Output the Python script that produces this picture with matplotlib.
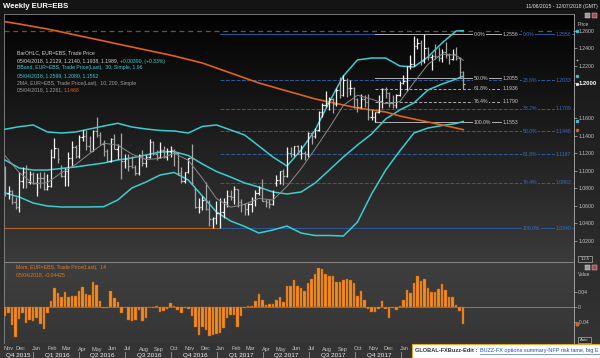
import matplotlib
matplotlib.use('Agg')
import matplotlib.pyplot as plt
import matplotlib.dates as mdates
import matplotlib.transforms as mtransforms
from matplotlib.colors import LinearSegmentedColormap, to_rgb
from matplotlib.patches import Rectangle
from matplotlib.lines import Line2D
import numpy as np
import pandas as pd

plt.rcParams['font.family'] = ['Liberation Sans', 'DejaVu Sans']

# weekly EUR=EBS bars, 06/11/2015 .. 04/05/2018
weeks = pd.date_range('2015-11-06', '2018-05-04', freq='W-FRI')

opens = [1.1015, 1.0740, 1.0770, 1.0645, 1.0590, 1.0885, 1.0990, 1.0865,
         1.0965, 1.0860, 1.0920, 1.0915, 1.0795, 1.0830, 1.1155, 1.1255, 1.1030, 1.0935,
         1.1000, 1.1150, 1.1270, 1.1165, 1.1390, 1.1400, 1.1285, 1.1225, 1.1450, 1.1405,
         1.1310, 1.1225, 1.1115, 1.1365, 1.1250, 1.1280, 1.1115, 1.1135, 1.1050, 1.1040,
         1.0975, 1.1175, 1.1085, 1.1160, 1.1325, 1.1195, 1.1155, 1.1235, 1.1155, 1.1225,
         1.1240, 1.1200, 1.0970, 1.0885, 1.0985, 1.1140, 1.0790, 1.0590, 1.0590, 1.0665,
         1.0560, 1.0450, 1.0455,
         1.0520, 1.0530, 1.0645, 1.0705, 1.0695, 1.0785, 1.0640, 1.0615, 1.0560, 1.0620,
         1.0670, 1.0740, 1.0800, 1.0655, 1.0640, 1.0615, 1.0860, 1.0895, 1.0995, 1.0935,
         1.1205, 1.1185, 1.1280, 1.1195, 1.1200, 1.1195, 1.1425, 1.1400, 1.1470, 1.1665,
         1.1750, 1.1775, 1.1820, 1.1760, 1.1925, 1.1865, 1.2035, 1.1945, 1.1950, 1.1815,
         1.1730, 1.1820, 1.1785, 1.1610, 1.1610, 1.1665, 1.1795, 1.1930, 1.1890, 1.1770,
         1.1745, 1.1860,
         1.2005, 1.2030, 1.2195, 1.2220, 1.2425, 1.2460, 1.2250, 1.2405, 1.2295, 1.2315,
         1.2305, 1.2285, 1.2355, 1.2320, 1.2280, 1.2330, 1.2285, 1.2129]
highs = [1.1048, 1.0826, 1.0775, 1.0700, 1.0981, 1.1045, 1.1060, 1.0995,
         1.0990, 1.0970, 1.0990, 1.0990, 1.0960, 1.1245, 1.1376, 1.1260, 1.1070, 1.1030,
         1.1218, 1.1342, 1.1290, 1.1410, 1.1465, 1.1465, 1.1400, 1.1460, 1.1616, 1.1445,
         1.1350, 1.1245, 1.1375, 1.1415, 1.1300, 1.1425, 1.1185, 1.1185, 1.1165, 1.1060,
         1.1195, 1.1235, 1.1175, 1.1365, 1.1340, 1.1240, 1.1330, 1.1285, 1.1260, 1.1280,
         1.1245, 1.1210, 1.1040, 1.0990, 1.1145, 1.1299, 1.0805, 1.0690, 1.0710, 1.0875,
         1.0670, 1.0470, 1.0655,
         1.0685, 1.0685, 1.0775, 1.0775, 1.0830, 1.0795, 1.0680, 1.0630, 1.0630, 1.0700,
         1.0780, 1.0825, 1.0905, 1.0680, 1.0680, 1.0780, 1.0950, 1.1000, 1.1020, 1.1265,
         1.1270, 1.1285, 1.1295, 1.1295, 1.1225, 1.1445, 1.1445, 1.1490, 1.1680, 1.1775,
         1.1910, 1.1845, 1.1825, 1.1940, 1.2070, 1.2092, 1.2060, 1.2035, 1.1960, 1.1835,
         1.1880, 1.1860, 1.1880, 1.1690, 1.1665, 1.1860, 1.1940, 1.1960, 1.1900, 1.1860,
         1.1880, 1.2025,
         1.2090, 1.2195, 1.2325, 1.2536, 1.2520, 1.2495, 1.2556, 1.2410, 1.2335, 1.2445,
         1.2410, 1.2390, 1.2475, 1.2345, 1.2395, 1.2415, 1.2295, 1.2140]
lows = [1.0706, 1.0675, 1.0616, 1.0565, 1.0524, 1.0797, 1.0805, 1.0850,
        1.0850, 1.0710, 1.0805, 1.0780, 1.0780, 1.0810, 1.1150, 1.1090, 1.0930, 1.0820,
        1.0822, 1.1055, 1.1145, 1.1145, 1.1335, 1.1235, 1.1215, 1.1220, 1.1385, 1.1300,
        1.1165, 1.1100, 1.1100, 1.1250, 1.1130, 1.0910, 1.1030, 1.1000, 1.1030, 1.0950,
        1.0950, 1.1050, 1.1045, 1.1150, 1.1180, 1.1125, 1.1145, 1.1150, 1.1125, 1.1160,
        1.1050, 1.0955, 1.0860, 1.0860, 1.0970, 1.0850, 1.0570, 1.0520, 1.0550, 1.0555,
        1.0365, 1.0350, 1.0390,
        1.0340, 1.0455, 1.0580, 1.0660, 1.0620, 1.0590, 1.0525, 1.0495, 1.0495, 1.0525,
        1.0600, 1.0725, 1.0650, 1.0590, 1.0570, 1.0605, 1.0820, 1.0850, 1.0840, 1.0925,
        1.1160, 1.1165, 1.1195, 1.1135, 1.1120, 1.1160, 1.1310, 1.1370, 1.1455, 1.1610,
        1.1730, 1.1690, 1.1660, 1.1740, 1.1825, 1.1850, 1.1840, 1.1860, 1.1720, 1.1670,
        1.1715, 1.1730, 1.1575, 1.1575, 1.1553, 1.1660, 1.1715, 1.1830, 1.1730, 1.1720,
        1.1720, 1.1855,
        1.1995, 1.1915, 1.2165, 1.2200, 1.2385, 1.2205, 1.2235, 1.2260, 1.2155, 1.2275,
        1.2255, 1.2240, 1.2285, 1.2215, 1.2265, 1.2270, 1.2055, 1.1938]
closes = [1.0740, 1.0770, 1.0645, 1.0590, 1.0885, 1.0990, 1.0865, 1.0965,
          1.0860, 1.0920, 1.0915, 1.0795, 1.0830, 1.1155, 1.1255, 1.1130, 1.0935, 1.1000,
          1.1150, 1.1270, 1.1165, 1.1390, 1.1400, 1.1285, 1.1225, 1.1450, 1.1405, 1.1310,
          1.1225, 1.1115, 1.1365, 1.1250, 1.1280, 1.1115, 1.1135, 1.1050, 1.1040, 1.0975,
          1.1175, 1.1085, 1.1160, 1.1325, 1.1195, 1.1155, 1.1235, 1.1155, 1.1225, 1.1240,
          1.1200, 1.0970, 1.0885, 1.0985, 1.1140, 1.0855, 1.0590, 1.0590, 1.0665, 1.0560,
          1.0450, 1.0455, 1.0520,
          1.0530, 1.0645, 1.0705, 1.0695, 1.0785, 1.0640, 1.0615, 1.0560, 1.0620, 1.0670,
          1.0740, 1.0800, 1.0655, 1.0640, 1.0615, 1.0725, 1.0895, 1.0995, 1.0935, 1.1205,
          1.1185, 1.1280, 1.1195, 1.1200, 1.1195, 1.1425, 1.1400, 1.1470, 1.1665, 1.1750,
          1.1775, 1.1820, 1.1760, 1.1925, 1.1860, 1.2035, 1.1945, 1.1950, 1.1815, 1.1730,
          1.1820, 1.1785, 1.1610, 1.1610, 1.1665, 1.1795, 1.1930, 1.1890, 1.1770, 1.1745,
          1.1860, 1.2005,
          1.2030, 1.2195, 1.2220, 1.2425, 1.2460, 1.2250, 1.2405, 1.2295, 1.2315, 1.2305,
          1.2285, 1.2355, 1.2320, 1.2280, 1.2330, 1.2285, 1.2130, 1.1989]

# indicator lines every 4th week (plus the last one)
band_idx = list(range(0, 129, 4)) + [130]
bb_upper = [1.1473, 1.1502, 1.1522, 1.1442, 1.1430, 1.1442, 1.1476, 1.1510, 1.1541, 1.1499,
            1.1476, 1.1459, 1.1453, 1.1430, 1.1505, 1.1522, 1.1465, 1.1407, 1.1282, 1.1156,
            1.1053, 1.1236, 1.1465, 1.1785, 1.2082, 1.2265, 1.2287, 1.2287, 1.2196, 1.2185,
            1.2299, 1.2459, 1.2596, 1.2599]
bb_mid = [1.1122, 1.1030, 1.1007, 1.1007, 1.1025, 1.1042, 1.1065, 1.1087, 1.1122, 1.1145,
          1.1179, 1.1213, 1.1217, 1.1173, 1.1076, 1.0990, 1.0927, 1.0859, 1.0813, 1.0756,
          1.0733, 1.0756, 1.0859, 1.1007, 1.1156, 1.1293, 1.1419, 1.1590, 1.1693, 1.1773,
          1.1922, 1.1990, 1.2047, 1.2080]
bb_lower = [1.0745, 1.0699, 1.0630, 1.0596, 1.0585, 1.0585, 1.0585, 1.0588, 1.0665, 1.0802,
            1.0870, 1.0950, 1.0979, 1.0893, 1.0710, 1.0527, 1.0425, 1.0362, 1.0287, 1.0322,
            1.0367, 1.0287, 1.0259, 1.0259, 1.0253, 1.0413, 1.0733, 1.1007, 1.1225, 1.1430,
            1.1487, 1.1516, 1.1539, 1.1562]
ma10 = [1.1170, 1.0980, 1.0850, 1.0862, 1.0976, 1.1069, 1.1195, 1.1313, 1.1291, 1.1189,
        1.1127, 1.1140, 1.1198, 1.1119, 1.0912, 1.0681, 1.0582, 1.0615, 1.0683, 1.0664,
        1.0821, 1.1023, 1.1249, 1.1490, 1.1746, 1.1862, 1.1816, 1.1765, 1.1788, 1.2007,
        1.2215, 1.2332, 1.2318, 1.2261]
ma200 = [1.2702, 1.2676, 1.2647, 1.2619, 1.2585, 1.2550, 1.2516, 1.2482, 1.2447, 1.2413,
         1.2379, 1.2345, 1.2310, 1.2270, 1.2230, 1.2173, 1.2116, 1.2059, 1.2002, 1.1956,
         1.1910, 1.1865, 1.1819, 1.1785, 1.1750, 1.1716, 1.1693, 1.1670, 1.1625, 1.1590,
         1.1556, 1.1522, 1.1487, 1.1468]

momentum = [-0.025, -0.016, -0.047, -0.081, -0.031, -0.016, -0.043, -0.034, -0.036, -0.029,
            -0.044, -0.058, -0.016, 0.015, 0.052, 0.037, 0.028, 0.041, 0.026, 0.030,
            0.030, 0.042, 0.053, 0.035, 0.031, 0.067, 0.058, 0.015, -0.003, -0.003,
            0.044, 0.024, 0.013, -0.016, 0.001, -0.034, -0.038, -0.034, -0.007, -0.036,
            -0.028, -0.001, -0.003, 0.004, -0.013, -0.010, -0.004, 0.012, 0.004, -0.007,
            -0.016, -0.003, -0.004, -0.025, -0.054, -0.074, -0.054, -0.060, -0.078, -0.074,
            -0.071, -0.069, -0.056, -0.029, -0.020, -0.022, -0.052, -0.025, -0.003, 0.004,
            0.002, 0.017, 0.035, 0.020, 0.006, 0.008, 0.008, 0.020, 0.028, 0.013,
            0.057, 0.057, 0.071, 0.055,
            0.051, 0.044, 0.064, 0.075, 0.089, 0.104, 0.102, 0.088, 0.082, 0.082,
            0.068, 0.067, 0.073, 0.075, 0.073, 0.064, 0.030, 0.042, 0.020, -0.004,
            -0.012, -0.012, -0.005, 0.017, -0.004, -0.029, -0.003, -0.009, 0.004, 0.020,
            0.046, 0.037, 0.064, 0.084, 0.070, 0.075, 0.051, 0.039, 0.039, 0.049,
            0.061, 0.046, 0.028, 0.028, 0.006, -0.010, -0.0443]

fib_blue_pct = ['0.0%', '23.6%', '38.2%', '50.0%', '61.8%', '76.4%', '100.0%']
fib_blue = [1.2556, 1.2033, 1.1709, 1.1448, 1.1187, 1.0863, 1.0340]
fib_grey_pct = ['0.0%', '50.0%', '61.8%', '76.4%', '100.0%']
fib_grey = [1.2556, 1.2055, 1.1936, 1.1790, 1.1553]

price_ticks = [1.02, 1.04, 1.06, 1.08, 1.10, 1.12, 1.14, 1.16, 1.20, 1.22, 1.24, 1.26]
mom_ticks = [0.04, 0.0, -0.04]
months = pd.date_range('2015-11-01', '2018-01-01', freq='MS')
quarters = ['Q4 2015', 'Q1 2016', 'Q2 2016', 'Q3 2016', 'Q4 2016', 'Q1 2017', 'Q2 2017',
            'Q3 2017', 'Q4 2017']
quarter_mid = pd.to_datetime(['2015-12-02', '2016-02-17', '2016-05-18', '2016-08-18', '2016-11-18',
                              '2017-02-17', '2017-05-18', '2017-08-18', '2017-11-18'])
quarter_start = pd.date_range('2016-01-01', '2018-10-01', freq='QS')

# layout in pixels
W, H = 600, 358
X0, X1 = 4, 574
TOP, SPLIT, BOT = 14, 262, 343
XLIM = (mdates.date2num(pd.Timestamp('2015-11-04')), mdates.date2num(pd.Timestamp('2018-12-10')))
PRICE_LIM = (0.9956, 1.2790)
MOM_LIM = (-0.096, 0.120)
MAIN_C = ('#020202', '#3a3a3a')
CYAN = '#3ccdd2'

fig = plt.figure(figsize=(W / 100, H / 100), dpi=100)


def frect(x0, y0, x1, y1):
    return [x0 / W, 1 - y1 / H, (x1 - x0) / W, (y1 - y0) / H]


def fy(y):
    return 1 - y / H


def px_x(x):
    return XLIM[0] + (x - X0) / (X1 - X0) * (XLIM[1] - XLIM[0])


def gradient(r, c_top, c_bot, z):
    a = fig.add_axes(r, zorder=z)
    cmap = LinearSegmentedColormap.from_list('g', [c_top, c_bot])
    a.imshow(np.linspace(0, 1, 64).reshape(-1, 1), cmap=cmap, aspect='auto', extent=[0, 1, 0, 1])
    a.set_axis_off()


def main_bg(p):
    t = (PRICE_LIM[1] - p) / (PRICE_LIM[1] - PRICE_LIM[0])
    a, b = np.array(to_rgb(MAIN_C[0])), np.array(to_rgb(MAIN_C[1]))
    return tuple(a + (b - a) * t)


def text_run(x, y, parts, size):
    # several colours on one line: each piece starts where the last one ended
    renderer = fig.canvas.get_renderer()
    for s, c in parts:
        t = fig.text(x / W, fy(y), s, color=c, fontsize=size, va='center')
        x = t.get_window_extent(renderer).x1 + 1.5


gradient([0, 0, 1, 1], '#141414', '#353535', -20)
gradient(frect(X0, TOP, X1, SPLIT), MAIN_C[0], MAIN_C[1], -10)
gradient(frect(X0, SPLIT, X1, BOT), '#3e3e3e', '#363636', -10)

ax = fig.add_axes(frect(X0, TOP, X1, SPLIT), zorder=1)
ax.set_facecolor('none')
ax.set_xlim(XLIM)
ax.set_ylim(PRICE_LIM)
ax.set_xticks([])

xd = mdates.date2num(weeks)
xb = [xd[i] for i in band_idx]

# reference lines
ax.axhline(1.2600, color='#8a4628', lw=0.9, ls=(0, (4, 3)), zorder=2)
ax.plot([XLIM[0], xd[61]], [fib_blue[-1]] * 2, color='#b8601e', lw=0.8, zorder=2)

for pct, lvl in zip(fib_blue_pct, fib_blue):
    ls = '-' if pct in ('0.0%', '100.0%') else (0, (4, 1.5))
    ax.plot([xd[61], XLIM[1]], [lvl, lvl], color='#2c5a9c', lw=0.7, ls=ls, zorder=2)
    box = dict(boxstyle='square,pad=0.1', fc=main_bg(lvl), ec='none')
    ax.text(px_x(523), lvl, pct, color='#3a6cc0', fontsize=3.7, va='center', ha='left', bbox=box, zorder=3)
    ax.text(px_x(571), lvl, f'{lvl:.4f}', color='#3a6cc0', fontsize=3.7,
            va='center', ha='right', bbox=box, zorder=3)

for pct, lvl in zip(fib_grey_pct, fib_grey):
    ls = (0, (3, 2)) if pct in ('61.8%', '76.4%') else '-'
    ax.plot([xd[105], px_x(518)], [lvl, lvl], color='#b0b0b0', lw=0.7, ls=ls, zorder=2.5)
    box = dict(boxstyle='square,pad=0.1', fc=main_bg(lvl), ec='none')
    ax.text(px_x(474), lvl, pct, color='#c8c8c8', fontsize=3.7, va='center', ha='left', bbox=box, zorder=3)
    ax.text(px_x(518), lvl, f'{lvl:.4f}', color='#c8c8c8', fontsize=3.7, va='center', ha='right',
            bbox=box, zorder=3)

# bands and averages
for band in (bb_upper, bb_mid, bb_lower):
    ax.plot(xb, band, color=CYAN, lw=1.1, zorder=3)
ax.plot(xb, ma200, color='#e0621c', lw=1.2, zorder=3)

# OHLC bars
up = np.array(closes) >= np.array(opens)
cols = np.where(up, '#f4f4f4', '#a6a6a6')
ax.vlines(xd, lows, highs, colors=cols, lw=0.9, zorder=4)
ax.hlines(opens, xd - 2.6, xd, colors=cols, lw=0.9, zorder=4)
ax.hlines(closes, xd, xd + 2.6, colors=cols, lw=0.9, zorder=4)
ax.plot(xb, ma10, color='#8a8a8a', lw=0.7, zorder=5)

ax.yaxis.tick_right()
ax.set_yticks(price_ticks)
ax.set_yticklabels([f'{v:.4f}' for v in price_ticks])
ax.tick_params(axis='y', colors='#b0b0b0', labelcolor='#c4c4c4', labelsize=3.7, length=2, width=0.5, pad=1)
for lbl in ax.get_yticklabels():
    if lbl.get_text() == '1.2000':
        lbl.set_color('white')
        lbl.set_fontweight('bold')
        lbl.set_fontsize(4.2)
for side, c in (('left', '#8a8a8a'), ('top', '#8a8a8a'), ('right', '#b0b0b0'), ('bottom', '#6a6a6a')):
    ax.spines[side].set_color(c)
    ax.spines[side].set_linewidth(0.6)

edge = mtransforms.blended_transform_factory(ax.transAxes, ax.transData)
for val, c, m in ((1.2599, CYAN, 'o'), (1.2080, CYAN, 'o'), (1.1562, CYAN, 'o'),
                  (1.1468, '#e0621c', 'o'), (1.1989, 'white', 's'), (1.2261, '#b0b0b0', '+')):
    ax.plot([1.006], [val], marker=m, ms=2.0, color=c, mew=0.5, transform=edge, clip_on=False, zorder=6)

# momentum panel
am = fig.add_axes(frect(X0, SPLIT, X1, BOT), zorder=1)
am.set_facecolor('none')
am.set_xlim(XLIM)
am.set_ylim(MOM_LIM)
am.axhline(0, color='#b07a48', lw=0.6, zorder=2)
am.bar(xd, momentum, width=5.0, color='#f28c20', edgecolor='#b85c10', linewidth=0.3, zorder=3)
am.set_xticks([])
am.yaxis.tick_right()
am.set_yticks(mom_ticks)
am.set_yticklabels(['0.04', '0', '-0.04'])
am.tick_params(axis='y', colors='#b0b0b0', labelcolor='#c4c4c4', labelsize=3.7, length=2, width=0.5, pad=1)
for side, c in (('left', '#8a8a8a'), ('top', '#8a8a8a'), ('right', '#b0b0b0')):
    am.spines[side].set_color(c)
    am.spines[side].set_linewidth(0.6)
am.spines['bottom'].set_visible(False)
edge_m = mtransforms.blended_transform_factory(am.transAxes, am.transData)
am.plot([1.006], [momentum[-1]], marker='o', ms=2.0, color='#e0621c', transform=edge_m, clip_on=False)

# time axis labels (the later ones sit under the news ticker in the original)
below = mtransforms.blended_transform_factory(am.transData, fig.transFigure)
for m in months:
    d = m + pd.Timedelta(days=11 if m == months[0] else 6)
    am.text(mdates.date2num(d), fy(349), m.strftime('%b'), transform=below, color='#c4c4c4',
            fontsize=4, ha='center', va='center', clip_on=False)
for q, d in zip(quarters, quarter_mid):
    am.text(mdates.date2num(d), fy(356), q, transform=below, color='#f0f0f0', fontsize=4.6,
            ha='center', va='center', clip_on=False)
for d in quarter_start:
    am.plot([mdates.date2num(d)] * 2, [fy(351.5), fy(358)], transform=below, color='#9a9a9a',
            lw=0.6, clip_on=False)

# header and legends
fig.text(3 / W, fy(6.5), 'Weekly EUR=EBS', color='white', fontsize=5.6, fontweight='bold', va='center')
fig.text(598 / W, fy(6.5), '11/06/2015 - 12/07/2018 (GMT)', color='#e8e8e8', fontsize=3.7,
         ha='right', va='center')
fig.text(578 / W, fy(24), 'Price', color='#c4c4c4', fontsize=3.5, va='center')
fig.text(578 / W, fy(275), 'Value', color='#c4c4c4', fontsize=3.5, va='center')

lg = 3.7
fig.text(17 / W, fy(53), 'BarOHLC, EUR=EBS, Trade Price', color='#d4d4d4', fontsize=lg, va='center')
text_run(17, 61, [('05/04/2018, 1.2129, 1.2140, 1.1938, 1.1989,', '#d4d4d4'),
                  ('+0.00390, (+0.33%)', '#3ed0c4')], lg)
fig.text(17 / W, fy(68), 'BBand, EUR=EBS, Trade Price(Last),  30, Simple, 1.96', color=CYAN,
         fontsize=lg, va='center')
fig.text(17 / W, fy(76), '05/04/2018, 1.2599, 1.2080, 1.1562', color=CYAN, fontsize=lg, va='center')
fig.text(17 / W, fy(83), '2MA, EUR=EBS, Trade Price(Last),  10, 200, Simple', color='#a0a0a0',
         fontsize=lg, va='center')
text_run(17, 90, [('05/04/2018, 1.2261,', '#a0a0a0'), ('1.1468', '#e0621c')], lg)
fig.text(16 / W, fy(268), 'Mom, EUR=EBS, Trade Price(Last),  14', color='#e07a24', fontsize=lg, va='center')
fig.text(16 / W, fy(275), '05/04/2018, -0.04425', color='#e07a24', fontsize=lg, va='center')

# little window controls on the right
for (x, y, c) in ((585, 13, '#9a9a9a'), (592, 13, '#b04848'), (585, 265, '#9a9a9a'), (592, 265, '#b04848')):
    fig.add_artist(Rectangle((x / W, fy(y + 5)), 5 / W, 5 / H, transform=fig.transFigure,
                             fc=c, ec='#dddddd', lw=0.3, zorder=10))
for (x0, y0, x1, y1, t) in ((578, 256, 592, 262, '1:2:5'), (578, 337, 591, 343, 'Auto')):
    fig.add_artist(Rectangle((x0 / W, fy(y1)), (x1 - x0) / W, (y1 - y0) / H, transform=fig.transFigure,
                             fc='#2a2a2a', ec='#d0d0d0', lw=0.4, zorder=10))
    fig.text((x0 + x1) / 2 / W, fy((y0 + y1) / 2), t, color='#e0e0e0', fontsize=3.0, ha='center',
             va='center', zorder=11)

# news ticker
fig.add_artist(Rectangle((412 / W, 0), 188 / W, 14 / H, transform=fig.transFigure, fc='white',
                         ec='#e4a430', lw=0.8, zorder=30))
fig.text(415 / W, fy(350.5), 'GLOBAL-FXBuzz-Edit :', color='#333333', fontsize=4.1, fontweight='bold',
         va='center', zorder=31)
fig.text(480 / W, fy(350.5), 'BUZZ-FX options summary-NFP risk tame, big E', color='#1f4fbf',
         fontsize=4.0, va='center', zorder=31)
fig.add_artist(Line2D([480 / W, 1], [fy(353.8)] * 2, color='#1f4fbf', lw=0.4, transform=fig.transFigure,
                      zorder=31))

fig.savefig('out.png', dpi=100, facecolor=fig.get_facecolor())
